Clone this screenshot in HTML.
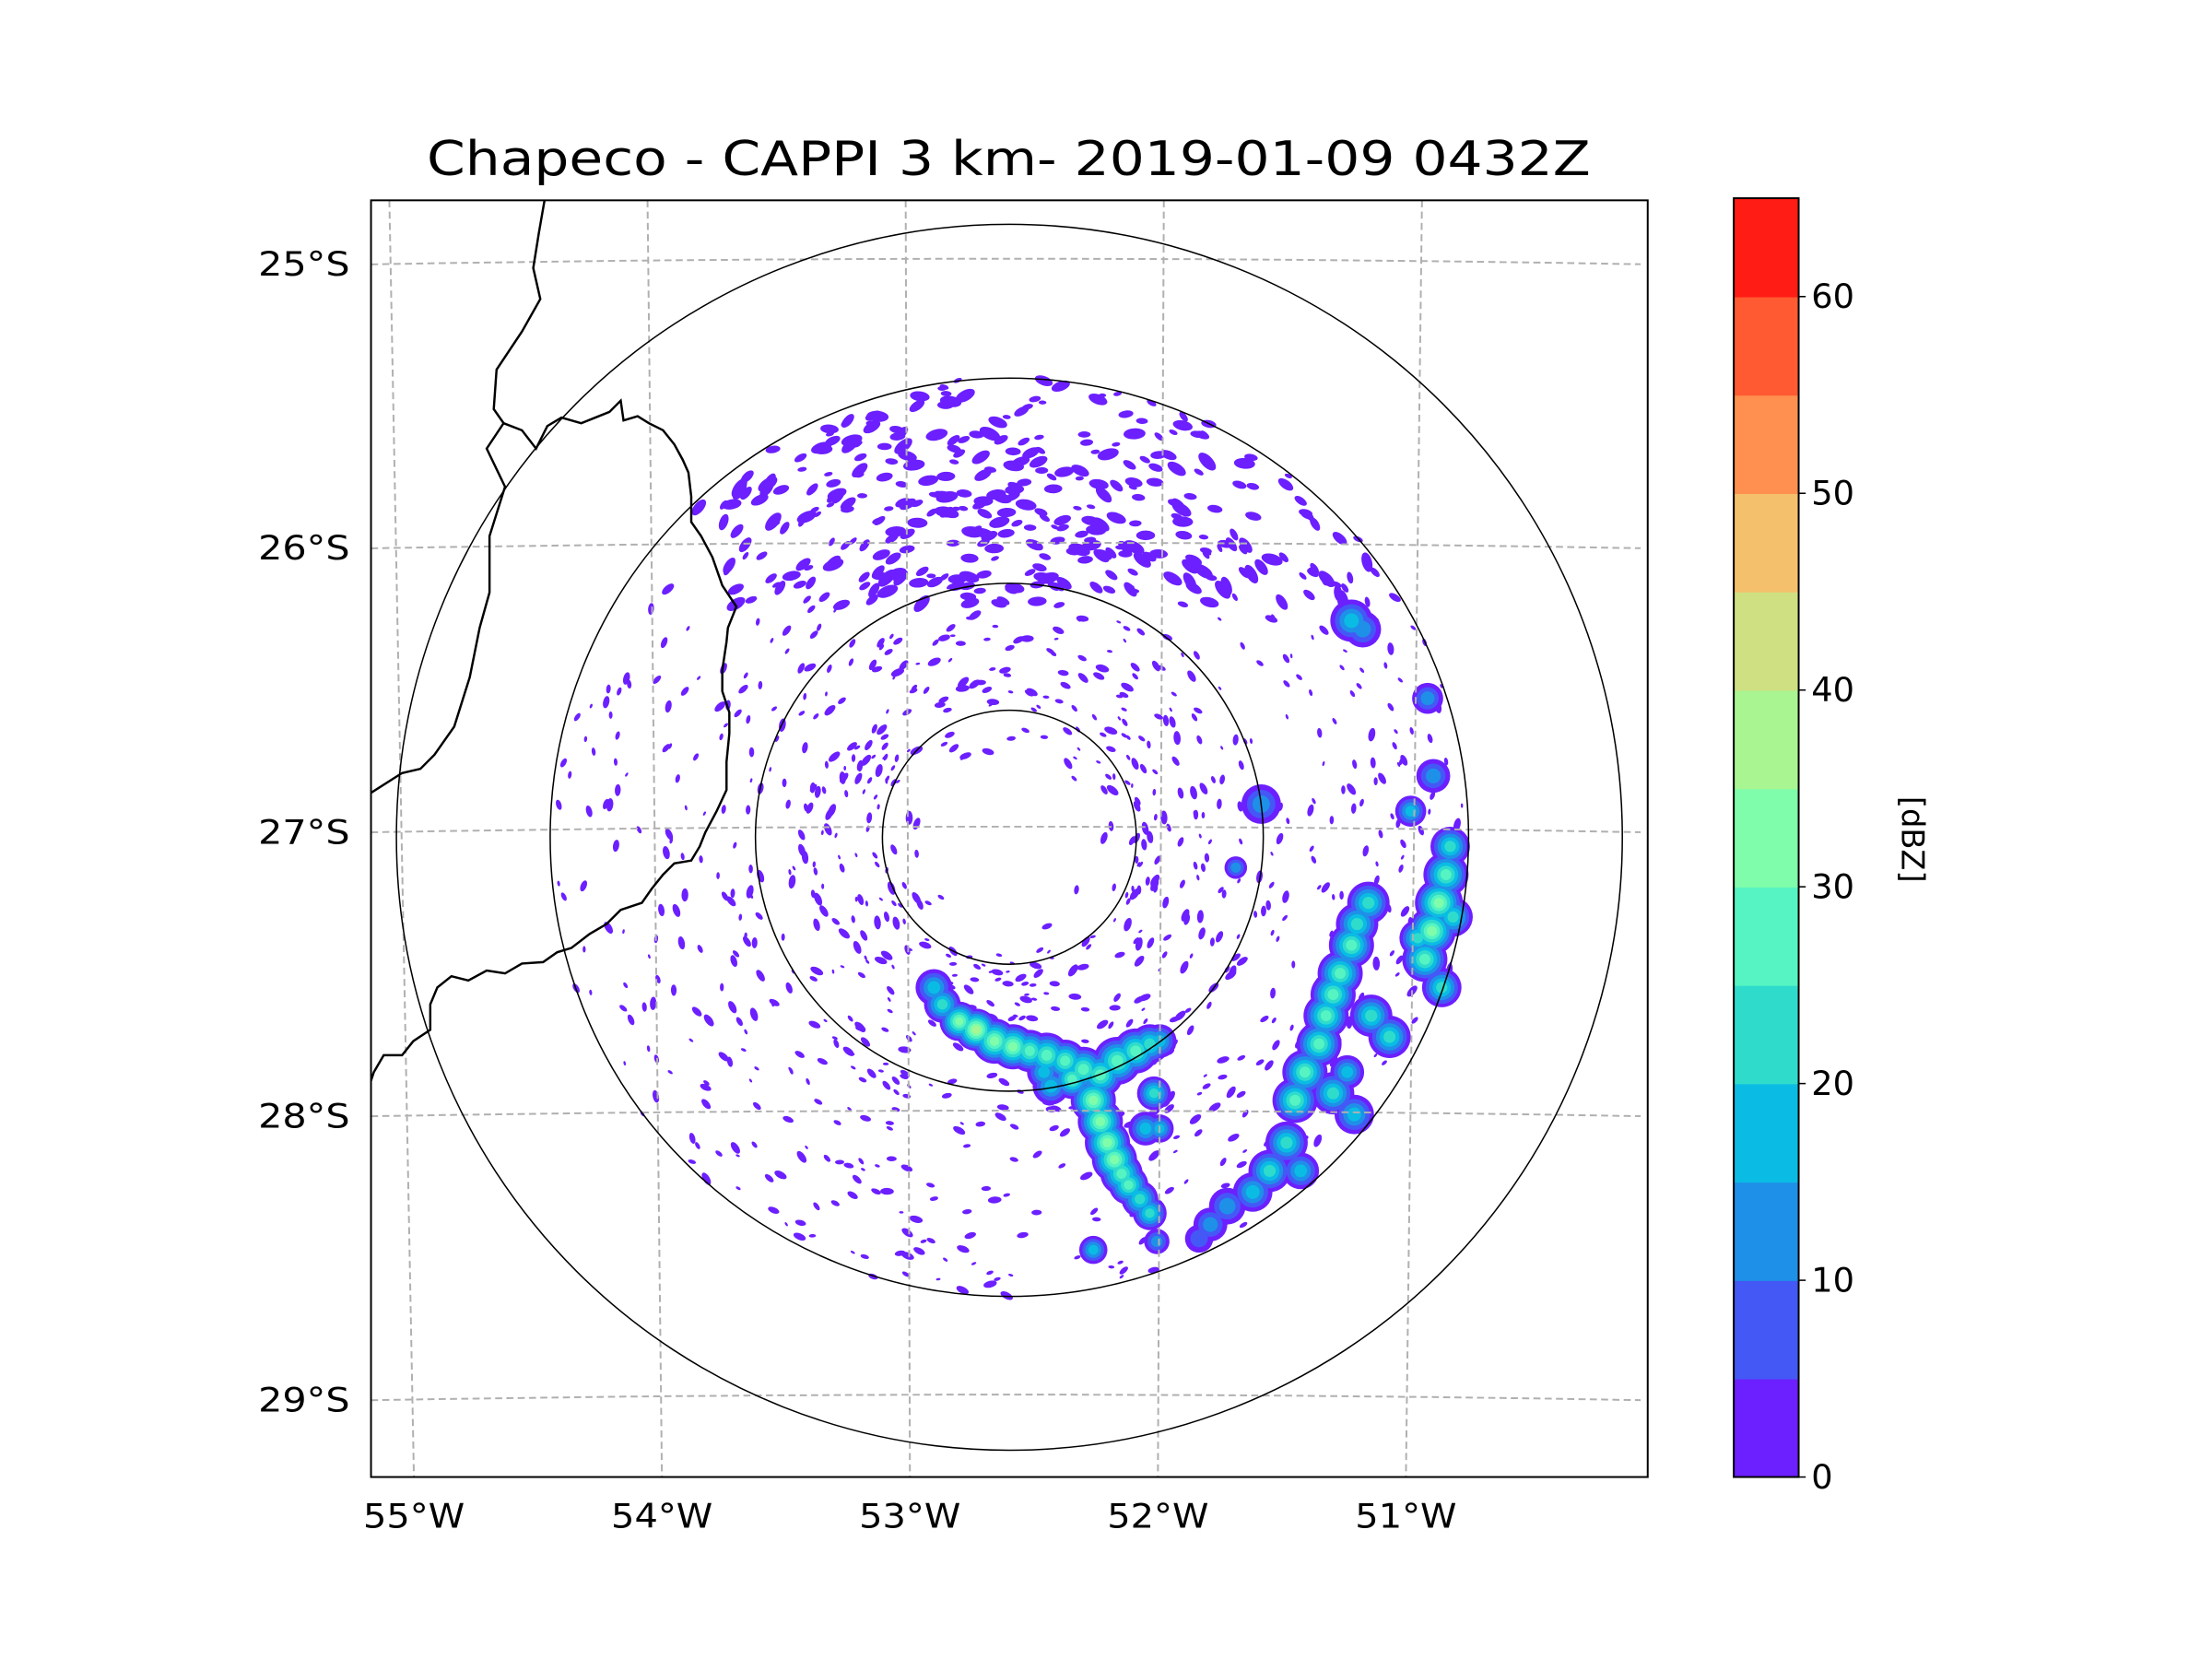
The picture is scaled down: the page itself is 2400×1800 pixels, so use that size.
<!DOCTYPE html>
<html><head><meta charset="utf-8"><style>
html,body{margin:0;padding:0;background:#fff;width:2400px;height:1800px;overflow:hidden}
svg text{font-family:"DejaVu Sans","Liberation Sans",sans-serif;fill:#000}
</style></head><body>
<svg id="fig" width="2400" height="1800" viewBox="0 0 1568 1176" xmlns="http://www.w3.org/2000/svg">
<defs><clipPath id="axclip"><rect x="263" y="142" width="905" height="905"/></clipPath></defs>
<text x="715" y="124" font-size="34" text-anchor="middle" textLength="825" lengthAdjust="spacingAndGlyphs">Chapeco - CAPPI 3 km- 2019-01-09 0432Z</text>
<g id="echoes" clip-path="url(#axclip)"></g>
<g id="grid" clip-path="url(#axclip)"></g>
<g id="rings" clip-path="url(#axclip)"></g>
<g id="borders" clip-path="url(#axclip)" fill="none" stroke="#000" stroke-width="1.6">
<polyline points="386,142 382,165 378,190 383,212 370,235 352,262 350,290 357,300 345,318 358,345 347,380 347,420 340,445 333,480 322,515 308,535 298,545 285,548 263,562"/>
<polyline points="357,300 370,305 380,318 388,302 398,296 412,300 422,296 432,292 440,284 442,298 452,295 460,300 470,305 478,315 484,326 488,335 490,352 490,370 497,380 505,395 512,415 522,430 516,445 515,455 512,475 512,490 517,505 517,520 515,540 515,560 508,575 500,590 496,600 490,610 478,612 470,620 462,630 455,640 440,645 430,655 418,662 405,672 395,675 385,682 370,683 358,690 345,688 332,695 320,692 310,700 305,712 305,730 293,738 285,748 272,748 265,760 263,766"/>
</g>
<rect x="263" y="142" width="905" height="905" fill="none" stroke="#000" stroke-width="1.3"/>
<g id="ticks"></g>
<g id="cbar"></g>
<text transform="translate(1348,595) rotate(90)" font-size="22" text-anchor="middle">[dBZ]</text>
</svg>
<script>
const NS="http://www.w3.org/2000/svg";
// colorbar data
const cbLevels=[0,5,10,15,20,25,30,35,40,45,50,55,60,65];
const cbColors=["#6c1fff","#4458f6","#1e90e8","#0abce4","#2fdccc","#55f4c2","#80fdaa","#a8f592","#cfe082","#f4c06c","#ff9050","#ff5a32","#ff1c14"];
const cbTicks=[0,10,20,30,40,50,60];
// graticule data
const lonTicks=[-55,-54,-53,-52,-51];
const latTicks=[-25,-26,-27,-28,-29];
// storm cells: x,y (display units), radius, dBZ
const cellX=[662,668,680,692,705,718,730,742,755,768,780,792,805,815,822,760,775,780,785,790,795,800,808,815,820,775,745,818,822,740,812,
             958,966,1012,1016,1000,894,1028,1025,1020,1015,1010,1022,970,962,958,950,945,940,972,985,935,925,918,945,960,912,900,888,870,858,850,955,922,876,1030,1005];
const cellY=[700,712,724,730,738,742,745,748,752,758,762,752,745,740,738,765,780,795,810,822,832,840,850,860,880,886,770,775,800,760,800,
             440,446,495,550,575,570,600,620,640,660,680,700,640,655,670,690,705,720,720,735,740,760,780,775,790,810,830,845,855,868,878,760,830,615,650,665];
const cellR=[9,9,10,11,12,12,11,12,11,12,12,13,12,10,8,10,12,12,12,12,11,10,9,8,5,6,9,8,6,8,8,
             11,9,7,8,7,10,10,12,13,13,12,10,11,11,12,12,12,12,11,11,12,12,12,11,10,11,11,10,9,8,6,8,9,4,10,9];
const cellDbz=[15,20,30,35,30,30,25,25,25,25,25,25,25,20,15,25,30,30,30,30,25,25,20,20,10,15,15,20,15,15,15,
               15,10,10,10,15,10,20,25,30,30,25,20,20,20,25,25,25,25,20,20,25,25,25,20,15,20,20,15,10,10,5,15,15,10,20,20];

const cx=715.5, cy=593.5;
function mx(lon,y){const t=(y-142)/905;const top=642+(lon+53)*183;const bot=645+(lon+53)*175.8;return top+(bot-top)*t;}
function ly(lat,x){const c=586-(lat+27)*201.3;const d=(x-715)/452;return c+4*d*d;}
function el(tag,attrs,parent){const e=document.createElementNS(NS,tag);for(const k in attrs)e.setAttribute(k,attrs[k]);parent.appendChild(e);return e;}
function color(v){for(let i=cbLevels.length-2;i>=0;i--)if(v>=cbLevels[i])return cbColors[i];return cbColors[0];}

// echoes: speckle texture (deterministic)
const eg=document.getElementById('echoes');
let s=12345;const rnd=()=>{s=(s*1103515245+12345)%2147483648;return s/2147483648;};
for(let i=0;i<2600;i++){
  const a=rnd()*Math.PI*2; const r=60+rnd()*266;
  const x=cx+r*Math.cos(a), y=cy+r*Math.sin(a);
  const north=y<430; if(!north && rnd()<0.55) continue;
  if(x<510 && y<470 && rnd()<0.6) continue;
  if(r<90 && rnd()<0.7) continue;
  const sz=north?(1.8+rnd()*3.5):(1+rnd()*2.3);
  const e=el('ellipse',{cx:x.toFixed(1),cy:y.toFixed(1),rx:(sz*1.5).toFixed(1),ry:(sz*0.75).toFixed(1),fill:"#6c1fff",transform:`rotate(${(a*180/Math.PI+90+(rnd()-0.5)*60).toFixed(0)} ${x.toFixed(1)} ${y.toFixed(1)})`},eg);
  
  
}
// storm cells layered by level
const maxL=Math.max(...cellDbz);
for(let L=0;L<=maxL;L+=5){
  for(let i=0;i<cellX.length;i++){
    if(cellDbz[i]<L) continue;
    const rr=(cellR[i]+4)*(1-L/(cellDbz[i]+8));
    if(rr<=0.8) continue;
    const c=el('circle',{cx:cellX[i],cy:cellY[i],r:rr.toFixed(1),fill:color(L)},eg);
    
    
  }
}
// graticule
const gg=document.getElementById('grid');
for(const lon of lonTicks){
  const l=el('line',{x1:mx(lon,142),y1:142,x2:mx(lon,1047),y2:1047,stroke:"#b0b0b0","stroke-width":1.3,"stroke-dasharray":"5,3"},gg);
  
  
}
for(const lat of latTicks){
  let d="";for(let x=263;x<=1168;x+=15)d+=(x===263?"M":"L")+x+","+ly(lat,x).toFixed(1);
  const p=el('path',{d:d,fill:"none",stroke:"#b0b0b0","stroke-width":1.3,"stroke-dasharray":"5,3"},gg);
  
  
}
// rings
const rg=document.getElementById('rings');
for(const r of [90,180,325.5,434.5]){
  const c=el('circle',{cx:cx,cy:cy,r:r,fill:"none",stroke:"#000","stroke-width":1},rg);
  
  
}
// labels
const tg=document.getElementById('ticks');
for(const lon of lonTicks){
  const t=el('text',{x:mx(lon,1047),y:1083,"font-size":24,"text-anchor":"middle",textLength:72,lengthAdjust:"spacingAndGlyphs"},tg);
  t.textContent=Math.abs(lon)+"°W";
  
  
}
for(const lat of latTicks){
  const t=el('text',{x:248,y:ly(lat,263)+8,"font-size":24,"text-anchor":"end",textLength:65,lengthAdjust:"spacingAndGlyphs"},tg);
  t.textContent=Math.abs(lat)+"°S";
  
  
}
// colorbar
const cg=document.getElementById('cbar');
const cbTop=140.5,cbBot=1047,cbL=1229,cbW=46,vmax=65;
const cy2=v=>cbBot-(v/vmax)*(cbBot-cbTop);
for(let i=0;i<cbColors.length;i++){
  const r=el('rect',{x:cbL,y:cy2(cbLevels[i+1]),width:cbW,height:cy2(cbLevels[i])-cy2(cbLevels[i+1])+0.5,fill:cbColors[i]},cg);
  
  
}
el('rect',{x:cbL,y:cbTop,width:cbW,height:cbBot-cbTop,fill:"none",stroke:"#000","stroke-width":1.3},cg);
for(const v of cbTicks){
  const y=cy2(v);
  el('line',{x1:cbL+cbW,x2:cbL+cbW+5,y1:y,y2:y,stroke:"#000","stroke-width":1},cg);
  const t=el('text',{x:cbL+cbW+9,y:y+8,"font-size":24},cg);
  t.textContent=v;
  
  
}
</script>
</body></html>
